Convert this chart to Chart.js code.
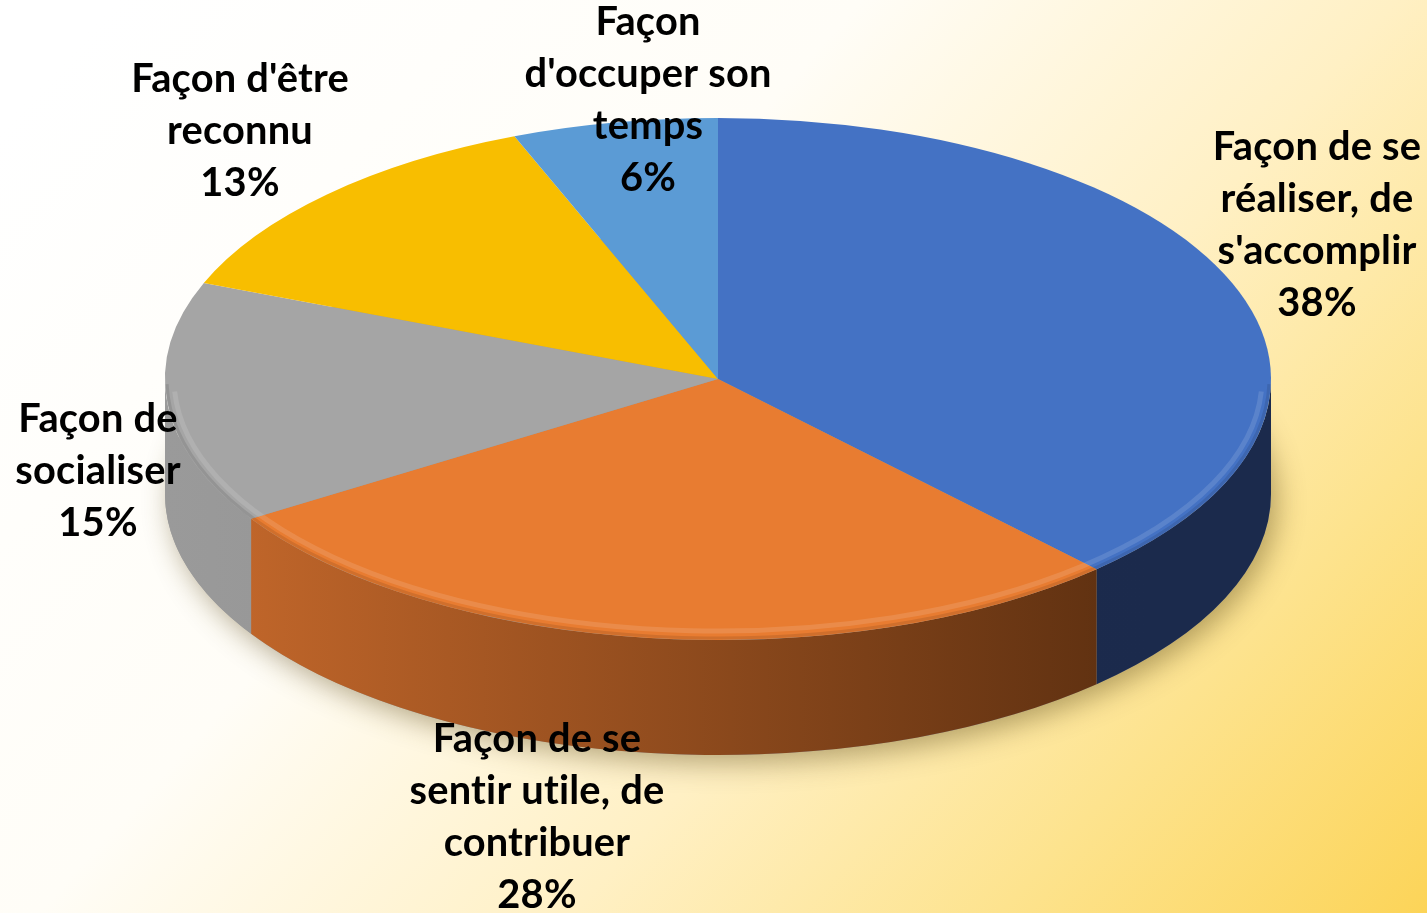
<!DOCTYPE html>
<html><head><meta charset="utf-8">
<script src="https://cdn.jsdelivr.net/npm/chart.js@4/dist/chart.umd.min.js"></script>
<style>html,body{margin:0;padding:0;overflow:hidden;background:#fff}#wrap{position:relative;width:1427px;height:913px}</style>
</head><body><div id="wrap"><canvas id="c"></canvas></div>
<script>
// ---- data ----
const categories = [
  "Façon de se réaliser, de s'accomplir",
  "Façon de se sentir utile, de contribuer",
  "Façon de socialiser",
  "Façon d'être reconnu",
  "Façon d'occuper son temps"
];
const shares = [38, 28, 15, 13, 6];
const labelLines = [
  ["Façon de se", "réaliser, de", "s'accomplir"],
  ["Façon de se", "sentir utile, de", "contribuer"],
  ["Façon de", "socialiser"],
  ["Façon d'être", "reconnu"],
  ["Façon", "d'occuper son", "temps"]
];
const topColors = ['#4472C4', '#E87C31', '#A5A5A5', '#F8BE00', '#5B9BD5'];
const wallLight = ['#1E2D52', '#C86A2C', '#9A9A9A', '#C09000', '#3F78AE'];
const wallDark  = ['#1B2A4C', '#5C2F10', '#858585', '#A07800', '#2F5F8C'];

const FONT_FAMILY = 'Lato, "Open Sans", sans-serif';

const pie3d = {
  id: 'pie3d',
  beforeDraw(chart, args, o) {
    const ctx = chart.ctx, W = chart.width, H = chart.height;
    ctx.save();
    const g = ctx.createLinearGradient(250, -150, 1427, 913);
    g.addColorStop(0, '#FFFFFF');
    g.addColorStop(0.35, '#FFFDF7');
    g.addColorStop(0.6, '#FFF0C4');
    g.addColorStop(0.8, '#FDE38E');
    g.addColorStop(1, '#FCD458');
    ctx.fillStyle = g;
    ctx.fillRect(0, 0, W, H);
    ctx.restore();
  },
  beforeDatasetsDraw(chart, args, o) {
    const ctx = chart.ctx;
    const meta = chart.getDatasetMeta(0);
    const p0 = meta.data[0].getProps(['x', 'y', 'outerRadius'], true);
    const {cx, cy, rx, ry, depth} = o;
    // shadow
    ctx.save();
    ctx.shadowColor = 'rgba(90,70,20,0.45)';
    ctx.shadowBlur = 28;
    ctx.shadowOffsetX = 6;
    ctx.shadowOffsetY = 8;
    ctx.fillStyle = '#999';
    ctx.beginPath();
    ctx.ellipse(cx, cy + depth, rx, ry, 0, 0, Math.PI * 2);
    ctx.fill();
    ctx.restore();
    // walls
    meta.data.forEach((arc, i) => {
      const p = arc.getProps(['startAngle', 'endAngle'], true);
      const a0 = Math.max(p.startAngle, 0), a1 = Math.min(p.endAngle, Math.PI);
      if (a1 <= a0) return;
      const g = ctx.createLinearGradient(cx - rx, 0, cx + rx * 0.78, 0);
      g.addColorStop(0, wallLight[i]);
      g.addColorStop(1, wallDark[i]);
      ctx.beginPath();
      ctx.ellipse(cx, cy, rx, ry, 0, a0, a1, false);
      ctx.lineTo(cx + rx * Math.cos(a1), cy + depth + ry * Math.sin(a1));
      ctx.ellipse(cx, cy + depth, rx, ry, 0, a1, a0, true);
      ctx.closePath();
      ctx.fillStyle = g;
      ctx.fill();
    });
    // top face transform
    ctx.save();
    ctx.translate(cx, cy);
    ctx.scale(rx / p0.outerRadius, ry / p0.outerRadius);
    ctx.translate(-p0.x, -p0.y);
  },
  afterDatasetsDraw(chart, args, o) {
    const ctx = chart.ctx;
    ctx.restore();
    const {cx, cy, rx, ry} = o;
    // rim bevel highlight on front edge
    ctx.save();
    ctx.strokeStyle = 'rgba(255,255,255,0.12)';
    ctx.lineWidth = 5;
    ctx.beginPath();
    ctx.ellipse(cx, cy, rx - 9, ry - 9, 0, 0.05, Math.PI - 0.05);
    ctx.stroke();
    ctx.strokeStyle = 'rgba(0,0,0,0.10)';
    ctx.lineWidth = 3;
    ctx.beginPath();
    ctx.ellipse(cx, cy, rx - 2, ry - 2, 0, 0.02, Math.PI - 0.02);
    ctx.stroke();
    ctx.restore();
    // labels
    ctx.save();
    if ('letterSpacing' in ctx) ctx.letterSpacing = '0.2px';
    ctx.font = 'bold 100px ' + FONT_FAMILY;
    const size = 100 * o.fitWidth / ctx.measureText(o.fitText).width;
    ctx.font = 'bold ' + size.toFixed(2) + 'px ' + FONT_FAMILY;
    ctx.fillStyle = '#000';
    ctx.textAlign = 'center';
    ctx.textBaseline = 'alphabetic';
    labelLines.forEach((lines, i) => {
      const L = o.labels[i];
      const all = lines.concat([shares[i] + '%']);
      all.forEach((t, k) => ctx.fillText(t, L.x, L.y + k * o.lineH));
    });
    ctx.restore();
  }
};

new Chart(document.getElementById('c'), {
  type: 'pie',
  data: {
    labels: categories,
    datasets: [{ data: shares, backgroundColor: topColors, borderWidth: 0 }]
  },
  options: {
    responsive: true,
    maintainAspectRatio: false,
    animation: false,
    events: [],
    layout: { padding: 0 },
    plugins: {
      legend: { display: false },
      tooltip: { enabled: false },
      pie3d: {
        cx: 718, cy: 379, rx: 553, ry: 261, depth: 115,
        fitText: 'sentir utile, de', fitWidth: 253, lineH: 52,
        labels: [
          { x: 1317, y: 160 },
          { x: 537, y: 752 },
          { x: 98, y: 432 },
          { x: 240, y: 92 },
          { x: 648, y: 35 }
        ]
      }
    }
  },
  plugins: [pie3d]
});
</script>
</body></html>
